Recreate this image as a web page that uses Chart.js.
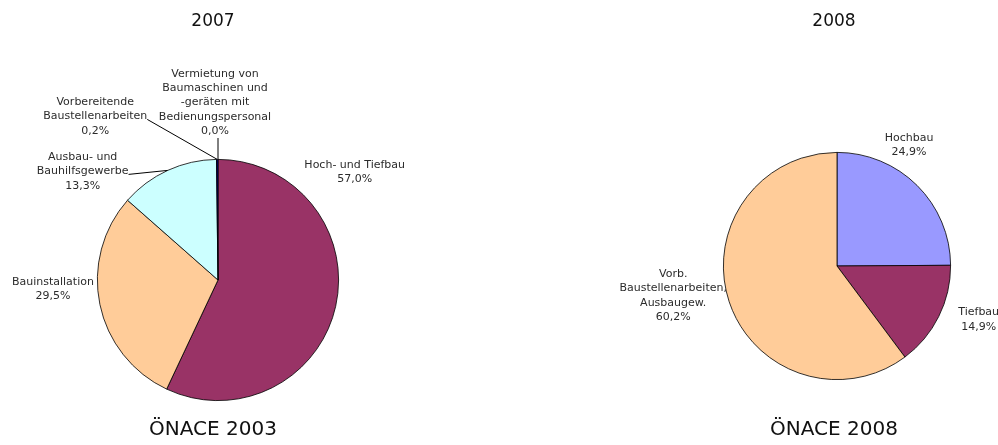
<!DOCTYPE html>
<html>
<head>
<meta charset="utf-8">
<script src="https://cdn.jsdelivr.net/npm/chart.js@4.4.1/dist/chart.umd.min.js"></script>
<style>
  html, body { margin: 0; padding: 0; background: #fff; }
  #wrap { position: relative; width: 998px; height: 445px; overflow: hidden; }
  .pane { position: absolute; top: 0; width: 499px; height: 445px; }
</style>
</head>
<body>
<div id="wrap">
  <div class="pane" style="left:0"><canvas id="pie2007" width="499" height="445"></canvas></div>
  <div class="pane" style="left:499px"><canvas id="pie2008" width="499" height="445"></canvas></div>
</div>
<script>
// ÖNACE 2003 classification, 2007
const labels2007 = [
  ['Hoch- und Tiefbau'],
  ['Bauinstallation'],
  ['Ausbau- und', 'Bauhilfsgewerbe'],
  ['Vorbereitende', 'Baustellenarbeiten'],
  ['Vermietung von', 'Baumaschinen und', '-geräten mit', 'Bedienungspersonal'],
];
const values2007 = [57.0, 29.5, 13.3, 0.2, 0.0];
const colors2007 = ['#993366', '#FFCC99', '#CCFFFF', '#000080', '#3366FF'];

// ÖNACE 2008 classification, 2008
const labels2008 = [
  ['Hochbau'],
  ['Tiefbau'],
  ['Vorb.', 'Baustellenarbeiten,', 'Ausbaugew.'],
];
const values2008 = [24.9, 14.9, 60.2];
const colors2008 = ['#9999FF', '#993366', '#FFCC99'];

// label block offsets from the slice's outer edge (mid angle); leader: none | side | below
const place2007 = [
  { dx: 19, dy: -134 },
  { dx: -47, dy: -15 },
  { dx: -85, dy: 1, leader: 'side', line: 1 },
  { dx: -122, dy: -43, leader: 'side', line: 1 },
  { dx: -3, dy: -57, leader: 'below' },
];
const place2008 = [
  { dx: -8, dy: -40 },
  { dx: 40, dy: 3 },
  { dx: -56, dy: -6 },
];

const LABEL_FONT = '11px "DejaVu Sans", sans-serif';
const LINE_H = 14.3;

const pct = (v) => v.toFixed(1).replace('.', ',') + '%';

const sliceLabels = {
  id: 'sliceLabels',
  afterDatasetsDraw(chart, args, opts) {
    const ctx = chart.ctx;
    const meta = chart.getDatasetMeta(0);
    const values = chart.data.datasets[0].data;
    ctx.save();
    ctx.font = LABEL_FONT;
    ctx.fillStyle = '#2b2b2b';
    ctx.strokeStyle = '#000';
    ctx.lineWidth = 1;
    ctx.textAlign = 'center';
    ctx.textBaseline = 'middle';
    meta.data.forEach((arc, i) => {
      const p = opts.place[i];
      const mid = (arc.startAngle + arc.endAngle) / 2;
      const ex = arc.x + Math.cos(mid) * arc.outerRadius;
      const ey = arc.y + Math.sin(mid) * arc.outerRadius;
      const lines = chart.data.labels[i].concat([pct(values[i])]);
      const cx = ex + p.dx;
      const cy = ey + p.dy;
      const top = cy - (lines.length - 1) * LINE_H / 2;
      lines.forEach((t, k) => ctx.fillText(t, cx, top + k * LINE_H));
      if (p.leader === 'side') {
        const w = ctx.measureText(lines[p.line]).width;
        ctx.beginPath();
        ctx.moveTo(cx + w / 2, top + p.line * LINE_H + 3);
        ctx.lineTo(ex, ey);
        ctx.stroke();
      } else if (p.leader === 'below') {
        ctx.beginPath();
        ctx.moveTo(ex, top + (lines.length - 1) * LINE_H + 7);
        ctx.lineTo(ex, ey);
        ctx.stroke();
      }
    });
    // captions above and below the pie
    const cxp = meta.data[0].x + opts.titleShift;
    ctx.fillStyle = '#111';
    ctx.font = '17px "DejaVu Sans", sans-serif';
    ctx.fillText(opts.top, cxp, 22);
    ctx.font = '20px "DejaVu Sans", sans-serif';
    ctx.fillText(opts.bottom, cxp, 430);
    ctx.restore();
  },
};

function makePie(id, labels, values, colors, padding, opts) {
  return new Chart(document.getElementById(id).getContext('2d'), {
    type: 'pie',
    data: {
      labels,
      datasets: [{
        data: values,
        backgroundColor: colors,
        borderColor: '#000',
        borderWidth: 0.8,
      }],
    },
    options: {
      responsive: false,
      animation: false,
      layout: { padding },
      plugins: {
        legend: { display: false },
        tooltip: { enabled: false },
        sliceLabels: opts,
      },
    },
    plugins: [sliceLabels],
  });
}

makePie('pie2007', labels2007, values2007, colors2007,
  { left: 97, right: 160, top: 159, bottom: 44 },
  { place: place2007, top: '2007', bottom: 'ÖNACE 2003', titleShift: -5 });

makePie('pie2008', labels2008, values2008, colors2008,
  { left: 224, right: 47, top: 152, bottom: 65 },
  { place: place2008, top: '2008', bottom: 'ÖNACE 2008', titleShift: -3 });
</script>
</body>
</html>
